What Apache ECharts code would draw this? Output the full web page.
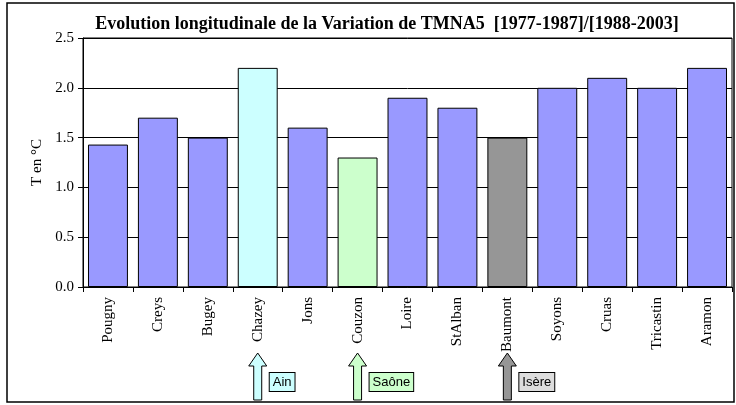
<!DOCTYPE html>
<html>
<head>
<meta charset="utf-8">
<script src="https://cdn.jsdelivr.net/npm/echarts@6/dist/echarts.min.js"></script>
<style>
  html, body { margin: 0; padding: 0; background: #fff; }
  #main { width: 736px; height: 405px; }
</style>
</head>
<body>
<div id="main"></div>
<script>
// stations along the river, upstream -> downstream
const stations = ['Pougny', 'Creys', 'Bugey', 'Chazey', 'Jons', 'Couzon', 'Loire',
  'StAlban', 'Baumont', 'Soyons', 'Cruas', 'Tricastin', 'Aramon'];
const variation = [1.43, 1.7, 1.5, 2.2, 1.6, 1.3, 1.9, 1.8, 1.5, 2.0, 2.1, 2.0, 2.2];
const yTicks = [0, 0.5, 1.0, 1.5, 2.0, 2.5];

// tributaries marked under the axis
const tributaries = ['Ain', 'Saône', 'Isère'];
const tributaryStations = ['Chazey', 'Couzon', 'Baumont'];
const tributaryColors = ['#ccffff', '#ccffcc', '#969696'];
const tributaryBoxColors = ['#ccffff', '#ccffcc', '#dddddd'];

const serif = '"Liberation Serif", "DejaVu Serif", serif';
const sans = '"Liberation Sans", Arial, sans-serif';

let chart = echarts.init(document.getElementById('main'));

chart.setOption({
  animation: false,
  title: {
    text: 'Evolution longitudinale de la Variation de TMNA5  [1977-1987]/[1988-2003]',
    left: 382,
    top: 10,
    textAlign: 'center',
    textStyle: { fontFamily: serif, fontWeight: 'bold', fontSize: 18, color: '#000' }
  },
  grid: {
    left: 83, right: 4, top: 38, bottom: 118,
    show: true, borderColor: '#000', borderWidth: 1
  },
  xAxis: {
    type: 'category',
    data: stations,
    axisLine: { lineStyle: { color: '#000', width: 1 } },
    axisTick: { show: true, length: 5, lineStyle: { color: '#000' } },
    axisLabel: {
      rotate: 90, margin: 10, color: '#000',
      fontFamily: serif, fontSize: 15
    }
  },
  yAxis: {
    type: 'value',
    min: yTicks[0], max: yTicks[yTicks.length - 1], interval: 0.5,
    name: 'T en °C',
    nameLocation: 'middle',
    nameGap: 38,
    nameTextStyle: { fontFamily: serif, fontSize: 15, color: '#000' },
    axisLine: { show: true, lineStyle: { color: '#000' } },
    axisTick: { show: true, length: 5, lineStyle: { color: '#000' } },
    axisLabel: {
      color: '#000', fontFamily: serif, fontSize: 15, margin: 9,
      formatter: v => v.toFixed(1)
    },
    splitLine: { lineStyle: { color: '#000', width: 1 } }
  },
  series: [{
    type: 'bar',
    barCategoryGap: '20%',
    data: variation.map((v, i) => {
      let k = tributaryStations.indexOf(stations[i]);
      return {
        value: v,
        itemStyle: { color: k >= 0 ? tributaryColors[k] : '#9999ff' }
      };
    }),
    itemStyle: { borderColor: '#000', borderWidth: 1 }
  }]
});

// arrows + boxes placed under their category
let graphics = [{
  type: 'rect',
  shape: { x: 7, y: 3, width: 727, height: 399 },
  style: { fill: 'none', stroke: '#000', lineWidth: 1.5 },
  z: 100
}];
tributaries.forEach((name, i) => {
  let cx = chart.convertToPixel({ xAxisIndex: 0 }, tributaryStations[i]);
  graphics.push({
    type: 'polygon',
    shape: {
      points: [
        [cx, 353], [cx + 9, 366], [cx + 4, 366], [cx + 4, 400],
        [cx - 4, 400], [cx - 4, 366], [cx - 9, 366]
      ]
    },
    style: { fill: tributaryColors[i], stroke: '#000', lineWidth: 1 },
    z: 50
  });
  graphics.push({
    type: 'text',
    x: cx + 12,
    y: 373,
    style: {
      text: name,
      font: '13px ' + sans,
      fill: '#000',
      backgroundColor: tributaryBoxColors[i],
      borderColor: '#000',
      borderWidth: 1,
      padding: [3, 3, 2, 3]
    },
    z: 50
  });
});
chart.setOption({ graphic: graphics });
</script>
</body>
</html>
